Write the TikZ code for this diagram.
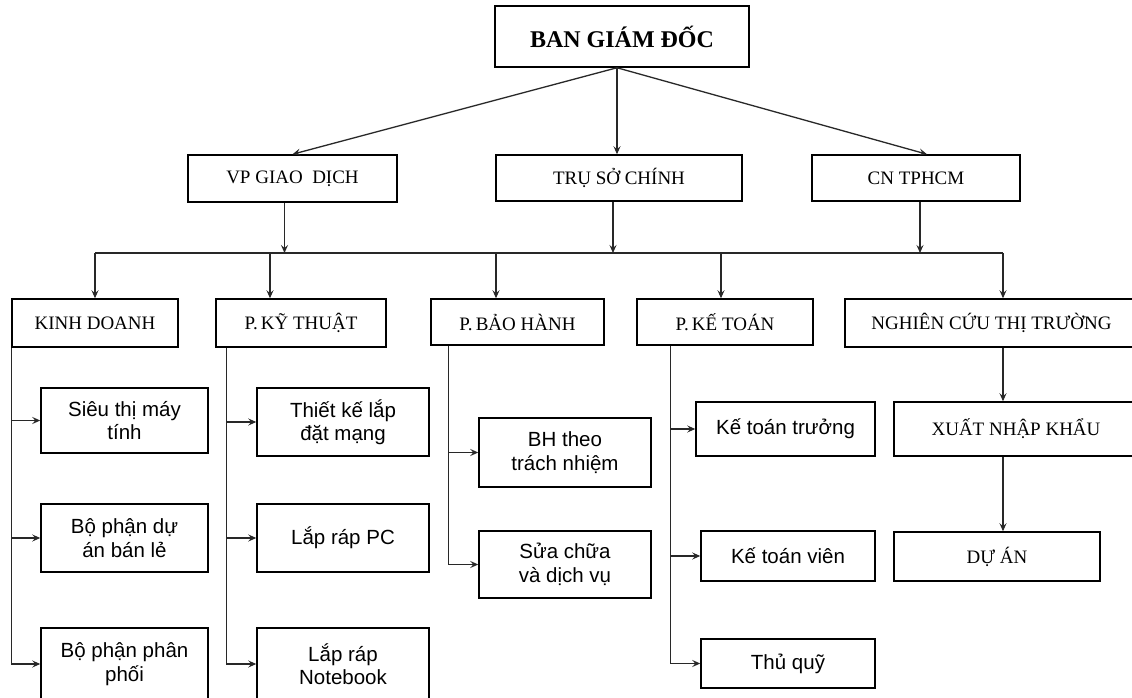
\documentclass[tikz,border=0pt]{standalone}
\usepackage{fontspec}
\setmainfont{Liberation Serif}
\setsansfont{Liberation Sans}
\usetikzlibrary{arrows.meta}

\definecolor{linegray}{RGB}{40,40,40}

\providecommand{\PageW}{1132}
\providecommand{\PageH}{698}
\providecommand{\BusY}{253}

\tikzset{
    headbox/.style={draw, line width=1.5pt, inner sep=0pt,
        font=\fontsize{19}{22}\selectfont},
    topbox/.style={headbox, font=\bfseries\fontsize{24}{28}\selectfont},
    subbox/.style={draw, line width=1.5pt, inner sep=0pt, align=center,
        font=\sffamily\fontsize{20.5}{23.5}\selectfont},
    busline/.style={draw=linegray, line width=1.3pt},
    arrline/.style={busline, -{Stealth[length=8pt,width=7pt,inset=3pt]}}
}

% box from its corners: name, style, x1, y1, x2, y2, text
\newcommand{\OrgBox}[7]{%
    \pgfmathsetmacro{\BoxCX}{(#3+#5)/2}
    \pgfmathsetmacro{\BoxCY}{(#4+#6)/2}
    \pgfmathsetmacro{\BoxW}{#5-#3}
    \pgfmathsetmacro{\BoxH}{#6-#4}
    \node[#2, minimum width=\BoxW pt, minimum height=\BoxH pt] (#1) at (\BoxCX,\BoxCY) {#7};
}

\begin{document}
\begin{tikzpicture}[x=1pt,y=-1pt]

% Page background, clipped to the sheet
\useasboundingbox (0,0) rectangle (\PageW,\PageH);
\fill[white] (0,0) rectangle (\PageW,\PageH);
\clip (0,0) rectangle (\PageW,\PageH);

% =====================================================
% BOARD
% =====================================================
\OrgBox{bgd}{topbox}{495}{6}{749}{67}{BAN GIÁM ĐỐC}

% =====================================================
% OFFICES
% =====================================================
\OrgBox{vpgd}{headbox}{188}{155}{397}{202}{VP GIAO~~DỊCH}
\OrgBox{tsc}{headbox}{496}{155}{742}{201}{TRỤ SỞ CHÍNH}
\OrgBox{cn}{headbox}{812}{155}{1020}{201}{CN TPHCM}

\draw[arrline] ([xshift=-5pt]bgd.south) -- (vpgd.north);
\draw[arrline] ([xshift=-5pt]bgd.south) -- ([xshift=-2pt]tsc.north);
\draw[arrline] ([xshift=-5pt]bgd.south) -- ([xshift=11pt]cn.north);

% =====================================================
% DEPARTMENTS
% =====================================================
\OrgBox{kd}{headbox}{12}{299}{178}{347}{KINH DOANH}
\OrgBox{kt}{headbox}{216}{299}{386}{347}{P.\,KỸ THUẬT}
\OrgBox{bh}{headbox}{431}{299}{604}{345}{P.\,BẢO HÀNH}
\OrgBox{kto}{headbox}{637}{299}{813}{345}{P.\,KẾ TOÁN}
\OrgBox{nc}{headbox}{845}{299}{1138}{347}{NGHIÊN CỨU THỊ TRƯỜNG}

% Shared bus between offices and departments
\coordinate (busL) at (95,\BusY);
\coordinate (busR) at (1003,\BusY);
\draw[busline] (busL) -- (busR);

\foreach \nm/\dx in {vpgd/-8,tsc/-6,cn/4} {
    \coordinate (drop) at ([xshift=\dx pt]\nm.south);
    \draw[arrline] (drop) -- (drop |- busL);
}

\foreach \nm/\dx in {kd/0,kt/-31,bh/-21.5,kto/-4,nc/11.5} {
    \coordinate (drop) at ([xshift=\dx pt]\nm.north);
    \draw[arrline] (drop |- busL) -- (drop);
}

% =====================================================
% UNITS
% =====================================================
\OrgBox{st}{subbox}{41}{388}{208}{453}{Siêu thị máy\\tính}
\OrgBox{bpda}{subbox}{41}{504}{208}{572}{Bộ phận dự\\án bán lẻ}
\OrgBox{bppp}{subbox}{41}{628}{208}{700}{Bộ phận phân\\phối}

\OrgBox{tk}{subbox}{257}{388}{429}{456}{Thiết kế lắp\\đặt mạng}
\OrgBox{lrpc}{subbox}{257}{504}{429}{572}{Lắp ráp PC}
\OrgBox{lrnb}{subbox}{257}{628}{429}{700}{Lắp ráp\\Notebook}

\OrgBox{bhtn}{subbox}{479}{418}{651}{487}{BH theo\\trách nhiệm}
\OrgBox{scdv}{subbox}{479}{531}{651}{598}{Sửa chữa\\và dịch vụ}

\OrgBox{ktt}{subbox}{696}{402}{875}{456}{Kế toán trưởng}
\OrgBox{ktv}{subbox}{701}{531}{875}{581}{Kế toán viên}
\OrgBox{tq}{subbox}{701}{639}{875}{688}{Thủ quỹ}

\OrgBox{xnk}{headbox}{894}{402}{1138}{456}{XUẤT NHẬP KHẨU}
\OrgBox{da}{headbox}{894}{532}{1100}{581}{DỰ ÁN}

% Trunks down the left side of each department
\coordinate (kdT) at (kd.south west);
\coordinate (ktT) at ([xshift=11pt]kt.south west);
\coordinate (bhT) at ([xshift=18pt]bh.south west);
\coordinate (ktoT) at ([xshift=34pt]kto.south west);

\foreach \tr/\last in {kdT/bppp,ktT/lrnb,bhT/scdv,ktoT/tq} {
    \draw[busline] (\tr) -- (\tr |- \last.west);
}

\foreach \tr/\kid in {kdT/st,kdT/bpda,kdT/bppp,ktT/tk,ktT/lrpc,ktT/lrnb,
                      bhT/bhtn,bhT/scdv,ktoT/ktt,ktoT/ktv,ktoT/tq} {
    \draw[arrline] (\tr |- \kid.west) -- (\kid.west);
}

% Market research chain
\coordinate (ncT) at ([xshift=11.5pt]nc.south);
\draw[arrline] (ncT) -- (ncT |- xnk.north);
\draw[arrline] (ncT |- xnk.south) -- (ncT |- da.north);

\end{tikzpicture}
\end{document}
